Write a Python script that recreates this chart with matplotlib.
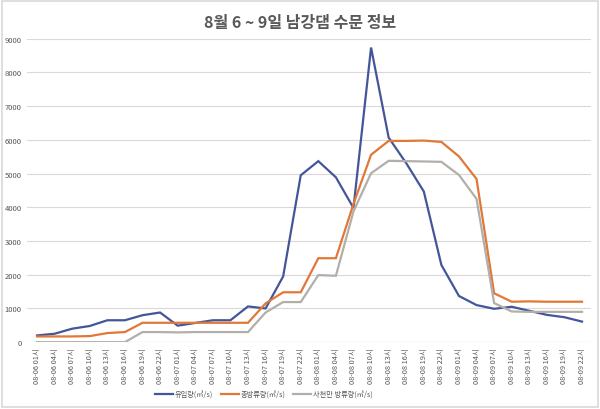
import matplotlib
matplotlib.use("Agg")
import matplotlib.pyplot as plt
from matplotlib.patches import Rectangle

plt.rcParams['font.family'] = ['Noto Sans CJK KR', 'DejaVu Sans']

days = ["08-06", "08-07", "08-08", "08-09"]
hours = ["01", "04", "07", "10", "13", "16", "19", "22"]
categories = [f"{d} {h}시" for d in days for h in hours]

inflow = [200, 250, 400, 480, 650, 650, 800, 880,
          490, 570, 650, 650, 1060, 1000, 1950, 4950,
          5370, 4890, 3980, 8740, 6070, 5310, 4470, 2290,
          1370, 1100, 990, 1050, 930, 810, 740, 610]
total_release = [170, 170, 170, 180, 270, 300, 575, 575,
                 575, 575, 575, 575, 575, 1150, 1480, 1480,
                 2490, 2490, 4100, 5560, 5970, 5970, 5980, 5940,
                 5510, 4840, 1450, 1200, 1210, 1200, 1200, 1200]
sacheon_release = [0, 0, 0, 0, 0, 0, 300, 300,
                   290, 300, 300, 300, 300, 880, 1190, 1190,
                   1990, 1970, 3880, 5010, 5380, 5370, 5360, 5350,
                   4960, 4250, 1160, 910, 900, 900, 900, 900]
yticks = list(range(0, 9001, 1000))

series_names = ["유입량(㎥/s)", "총방류량(㎥/s)", "사천만 방류량(㎥/s)"]
colors = ["#44569A", "#E07838", "#B2AEAA"]

fig = plt.figure(figsize=(6, 4.1), dpi=100)
ax = fig.add_axes([0.045, 0.163, 0.94, 0.74])

x = list(range(len(categories)))
for vals, name, c in zip([inflow, total_release, sacheon_release], series_names, colors):
    ax.plot(x, vals, color=c, lw=1.6, label=name, solid_joinstyle='miter')

ax.set_ylim(0, 9000)
ax.set_xlim(-0.57, len(categories) - 0.49)
ax.set_yticks(yticks)
ax.set_yticklabels([str(v) for v in yticks], fontsize=5.5, color="#555555")
ax.set_xticks(x)
ax.set_xticklabels(categories, rotation=90, fontsize=5.3, color="#555555")
ax.tick_params(length=0, pad=4)
ax.grid(axis='y', color="#DDD8D5", lw=0.8)
ax.set_axisbelow(True)
for s in ax.spines.values():
    s.set_visible(False)
ax.axhline(0, color="#D5D2D0", lw=0.8, zorder=0)

fig.text(0.5, 0.945, "8월 6 ~ 9일 남강댐 수문 정보", ha='center', va='center',
         fontsize=11.5, fontweight='bold', color="#595959")

fig.legend(loc='center', bbox_to_anchor=(0.44, 0.035), ncol=3, frameon=False,
           fontsize=5.2, handlelength=2.5, columnspacing=1.1, handletextpad=0.2,
           labelcolor="#555555")

fig.patches.append(Rectangle((0.003, 0.004), 0.994, 0.992, transform=fig.transFigure,
                             fill=False, edgecolor="#D9D9D9", lw=1.2))

fig.savefig("out.png", dpi=100, facecolor="white")
